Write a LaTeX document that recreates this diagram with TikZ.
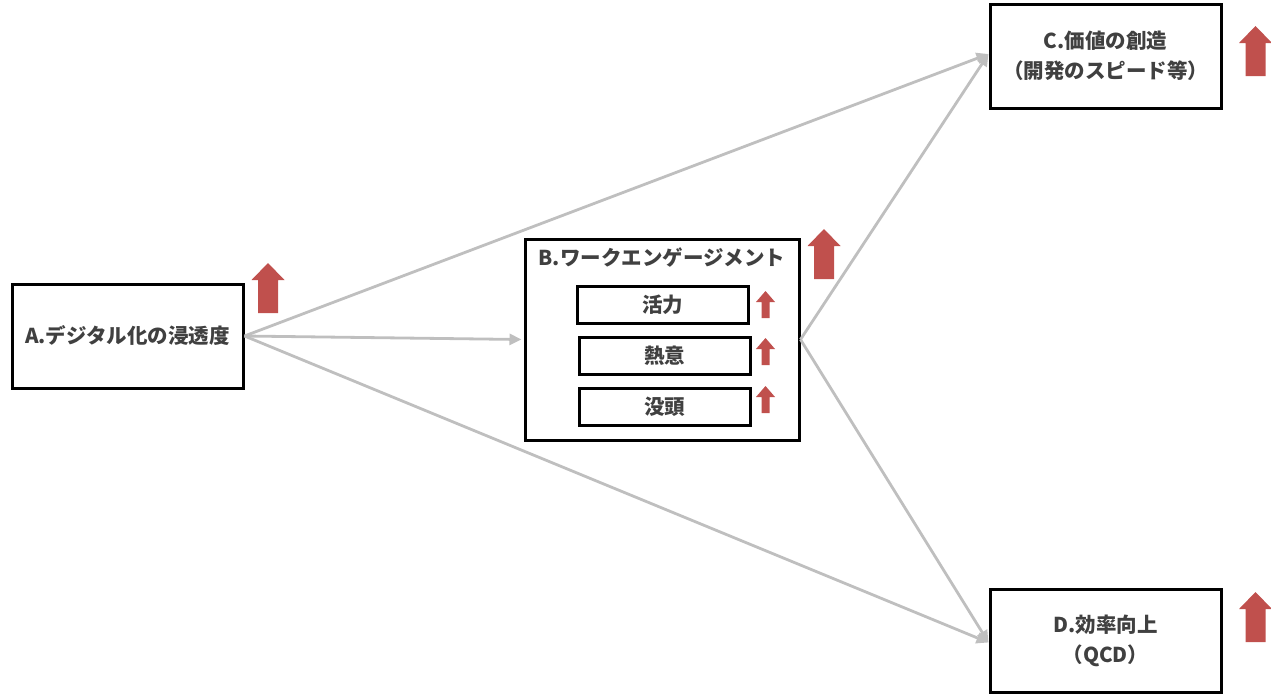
\documentclass[tikz,border=0pt]{standalone}
\usepackage{fontspec}
\setmainfont{Noto Sans CJK JP}
\usetikzlibrary{arrows.meta}
\definecolor{txt}{HTML}{404040}
\definecolor{conn}{HTML}{BFBFBF}
\definecolor{upred}{HTML}{C0504D}
\tikzset{
  lbl/.style={font=\fontsize{20.5}{30}\selectfont\bfseries, text=txt, align=center},
  box/.style={draw=black, line width=3pt, fill=white, inner sep=0pt, lbl},
  subbox/.style={box, minimum width=171pt, minimum height=37pt},
  conn/.style={draw=conn, line width=2.8pt, -{Triangle[length=12pt,width=11pt]}},
  bigup/.pic={\fill[upred] (-10,0) -- (-10,-33) -- (-16.5,-33) -- (0,-50) -- (16.5,-33) -- (10,-33) -- (10,0) -- cycle;},
  smallup/.pic={\fill[upred] (-4,0) -- (-4,-16) -- (-9.5,-16) -- (0,-27) -- (9.5,-16) -- (4,-16) -- (4,0) -- cycle;}
}
\begin{document}
\begin{tikzpicture}[x=1pt,y=-1pt]
\useasboundingbox (0,0) rectangle (1271,694);
% boxes
\node[box, minimum width=231pt, minimum height=104pt] (A) at (127.5,336) {A.デジタル化の浸透度};
\node[box, minimum width=274pt, minimum height=201pt] (B) at (662,339.5) {};
\node[lbl, inner sep=0pt] (Bt) at (662,258) {B.ワークエンゲージメント};
\node[subbox] (B1) at (662.5,304.5) {活力};
\node[subbox] (B2) at (664.5,355.5) {熱意};
\node[subbox] (B3) at (664.5,406.5) {没頭};
\node[box, minimum width=231pt, minimum height=104pt] (C) at (1105.5,56) {C.価値の創造\\（開発のスピード等）};
\node[box, minimum width=231pt, minimum height=103pt] (D) at (1105.5,640.5) {D.効率向上\\（QCD）};
% connectors
\draw[conn] (A.east) -- ([xshift=-2pt]B.west);
\draw[conn] (A.east) -- ([yshift=2pt]C.west);
\draw[conn] (A.east) -- ([yshift=-2pt]D.west);
\draw[conn] (B.east) -- ([yshift=2pt]C.west);
\draw[conn] (B.east) -- ([yshift=-2pt]D.west);
% up arrows
\pic at (268,313) {bigup};
\pic at (824,279) {bigup};
\pic at (1255.5,76) {bigup};
\pic at (1255.5,642) {bigup};
\pic at (765.5,318) {smallup};
\pic at (765.5,365) {smallup};
\pic at (765.5,413) {smallup};
\end{tikzpicture}
\end{document}
